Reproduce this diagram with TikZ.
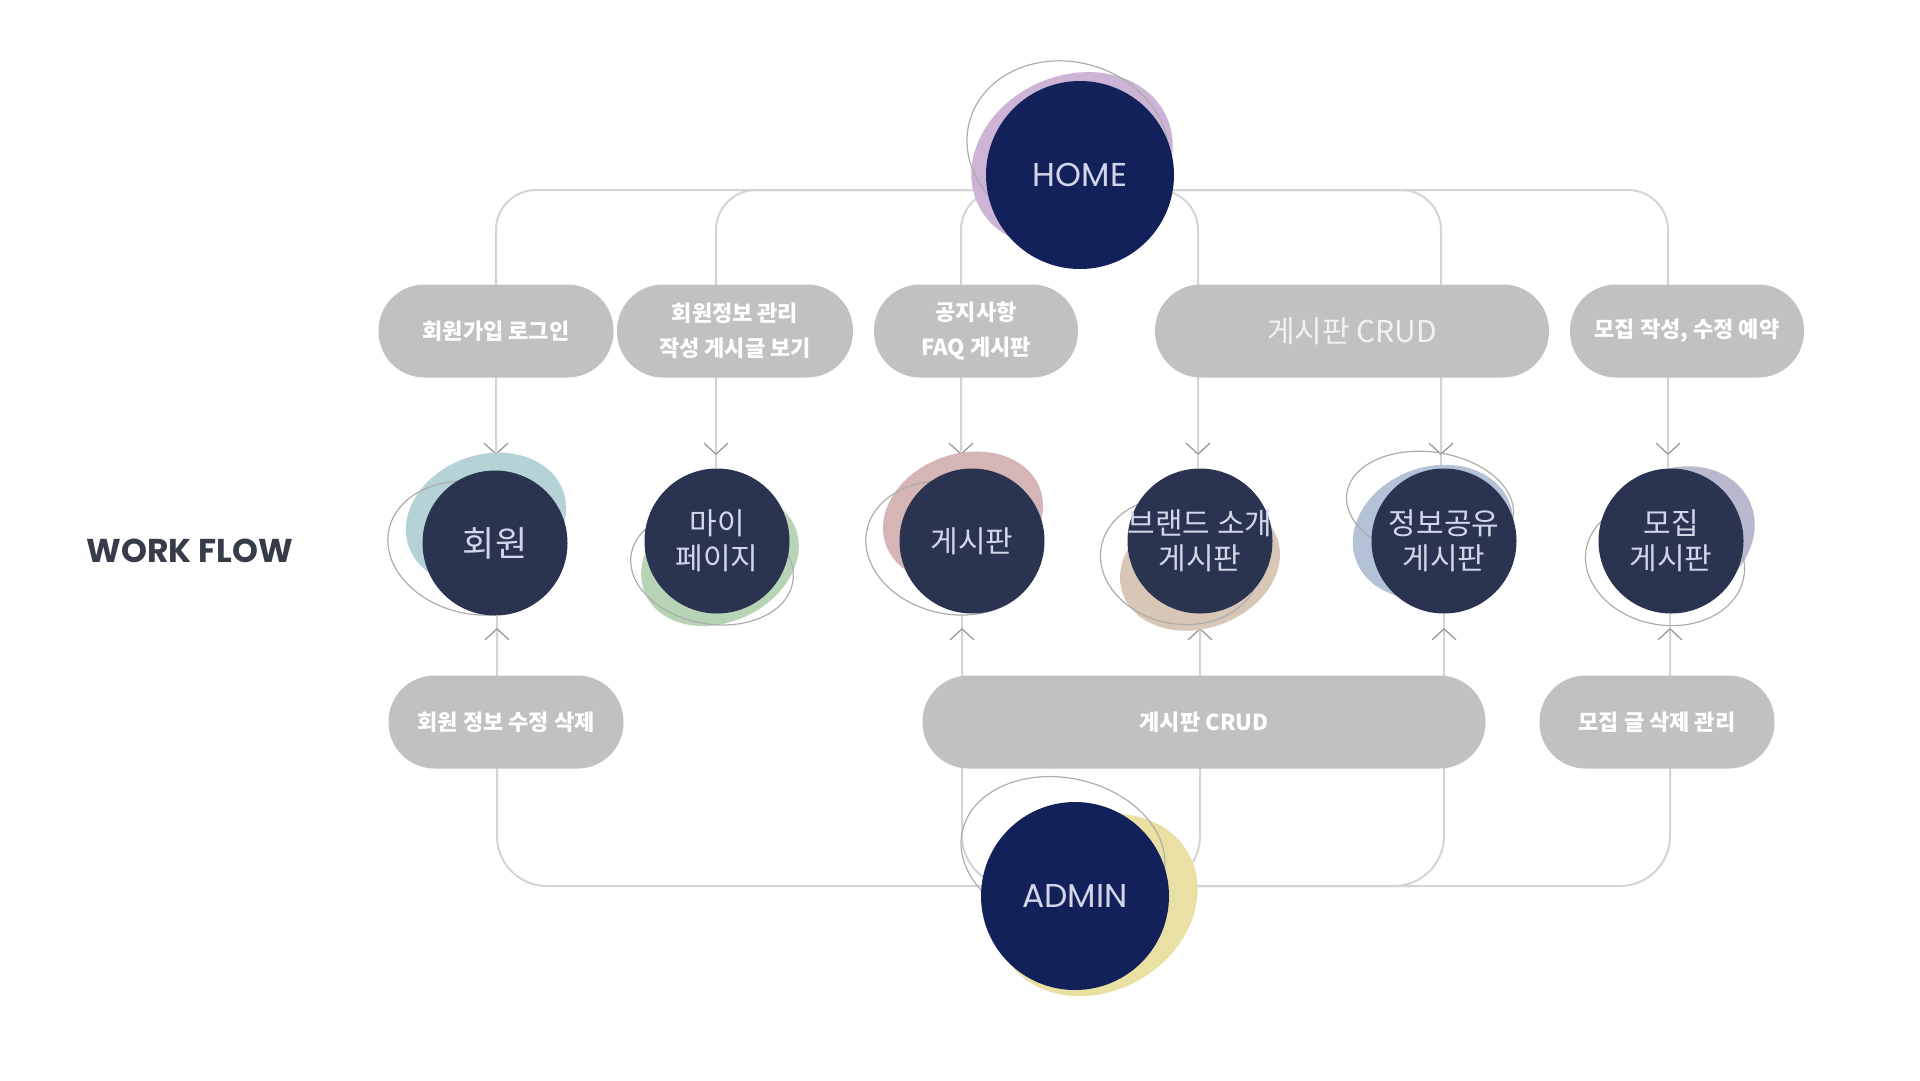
\documentclass[tikz,border=0pt]{standalone}
\usepackage{fontspec}
\newfontfamily\kr{Noto Sans CJK KR}
\newfontfamily\pop{Poppins}
\usetikzlibrary{arrows.meta}
\pgfdeclarelayer{Lpaper}\pgfdeclarelayer{Lconn}\pgfdeclarelayer{Lblob}\pgfdeclarelayer{Loutl}
\pgfsetlayers{Lpaper,Lconn,Lblob,Loutl,main}
\definecolor{hubc}{HTML}{12215A}
\definecolor{pagec}{HTML}{2A3350}
\definecolor{txtc}{HTML}{D3D5E8}
\definecolor{pillc}{HTML}{C1C1C1}
\definecolor{connc}{HTML}{D4D4D4}
\definecolor{outc}{HTML}{ADADAD}
\definecolor{arrc}{HTML}{9A9A9A}
\definecolor{bpurple}{HTML}{CDB4D6}
\definecolor{bteal}{HTML}{B5D3D7}
\definecolor{bgreen}{HTML}{B7D5B6}
\definecolor{bpink}{HTML}{D5B5B5}
\definecolor{btan}{HTML}{D8C6B6}
\definecolor{bblue}{HTML}{B4C2D8}
\definecolor{blav}{HTML}{B8B9CF}
\definecolor{byellow}{HTML}{EBE0A3}
\definecolor{wfc}{HTML}{363C49}
\begin{document}
\begin{tikzpicture}[x=1pt,y=-1pt,
  hub/.style={circle, fill=hubc, minimum size=188pt, inner sep=0pt, text=txtc, font=\pop\fontsize{33}{38}\selectfont},
  page/.style={circle, fill=pagec, minimum size=145pt, inner sep=0pt, text=txtc, align=center, font=\kr\fontsize{30}{35}\selectfont},
  pill/.style={rectangle, rounded corners=46pt, fill=pillc, minimum height=93pt, inner sep=0pt, text=white, align=center, font=\kr\bfseries\fontsize{22}{35}\selectfont},
  conn/.style={draw=connc, line width=2pt},
  tip/.style={-{Straight Barb[length=11pt,width=24pt,line width=1.3pt,color=arrc]}},
  outl/.style={draw=outc, line width=1.2pt}]
\useasboundingbox (0,0) rectangle (1920,1080);
\begin{pgfonlayer}{Lpaper}
\fill[white] (0,0) rectangle (1920,1080);
\end{pgfonlayer}

% hubs
\node[hub] (home) at (1080,175) {HOME};
\node[hub] (admin) at (1075,896) {ADMIN};

% pages
\node[page, font=\kr\fontsize{35}{40}\selectfont] (c1) at (495,543) {회원};
\node[page] (c2) at (717,541) {마이\\페이지};
\node[page] (c3) at (972,541) {게시판};
\node[page] (c4) at (1200,541) {\makebox[0pt]{브랜드 소개}\\게시판};
\node[page] (c5) at (1444,541) {정보공유\\게시판};
\node[page] (c6) at (1671,541) {모집\\게시판};

% top pills
\node[pill, minimum width=235pt] (p1) at (496,331) {회원가입 로그인};
\node[pill, minimum width=236pt] (p2) at (735,331) {회원정보 관리\\작성 게시글 보기};
\node[pill, minimum width=204pt] (p3) at (976,331) {공지사항\\FAQ 게시판};
\node[pill, minimum width=394pt, font=\kr\fontsize{30}{35}\selectfont, text={white!95!black}] (p4) at (1352,331) {게시판 CRUD};
\node[pill, minimum width=234pt] (p5) at (1687,331) {모집 작성, 수정 예약};

% bottom pills
\node[pill, minimum width=235pt] (q1) at (506,722) {회원 정보 수정 삭제};
\node[pill, minimum width=563pt] (q2) at (1204,722) {게시판 CRUD};
\node[pill, minimum width=235pt] (q3) at (1657,722) {모집 글 삭제 관리};

\node[font=\pop\bfseries\fontsize{33}{38}\selectfont, text=wfc] (wf) at (190,551) {WORK FLOW};

% arrow points
\coordinate (t1) at (496,455); \coordinate (t2) at (716,455);
\coordinate (t3) at (961,455); \coordinate (t4) at (1198,455);
\coordinate (t5) at (1441,455); \coordinate (t6) at (1668,455);
\coordinate (b1) at (497,628); \coordinate (b3) at (962,628);
\coordinate (b4) at (1200,628); \coordinate (b5) at (1444,628);
\coordinate (b6) at (1670,628);

\begin{pgfonlayer}{Lconn}
\foreach \t/\c in {t1/c1,t2/c2,t3/c3,t4/c4,t5/c5,t6/c6}{
  \draw[conn, rounded corners=40pt, tip] ([yshift=-15pt]home.center) -| (\t);
  \draw[conn] (\t) -- (\t |- \c.north);
}
\foreach \b/\c in {b1/c1,b3/c3,b4/c4,b5/c5,b6/c6}{
  \draw[conn, rounded corners=50pt, tip] ([yshift=10pt]admin.center) -| (\b);
  \draw[conn] (\b) -- (\b |- \c.south);
}
\end{pgfonlayer}

\begin{pgfonlayer}{Lblob}
\fill[bpurple, rotate around={25:(1072,160)}] (1072,160) ellipse [x radius=104, y radius=84];
\fill[byellow, rotate around={30:(1097,905)}] (1097,905) ellipse [x radius=105, y radius=86];
\fill[bteal, rotate around={20:(486,519)}] (486,519) ellipse [x radius=82, y radius=64];
\fill[bgreen, rotate around={25:(720,560)}] (720,560) ellipse [x radius=82, y radius=62];
\fill[bpink, rotate around={20:(963,517)}] (963,517) ellipse [x radius=82, y radius=63];
\fill[btan, rotate around={20:(1200,566)}] (1200,566) ellipse [x radius=82, y radius=62];
\fill[bblue, rotate around={20:(1433,532)}] (1433,532) ellipse [x radius=82, y radius=65];
\fill[blav, rotate around={25:(1677,535)}] (1677,535) ellipse [x radius=80, y radius=66];
\end{pgfonlayer}

\begin{pgfonlayer}{Loutl}
\draw[outl, rotate around={-15:(1068,148)}] (1068,148) ellipse [x radius=102, y radius=86];
\draw[outl, rotate around={-12:(1063,853)}] (1063,853) ellipse [x radius=103, y radius=75];
\draw[outl, rotate around={-12:(475,548)}] (475,548) ellipse [x radius=88, y radius=66];
\draw[outl, rotate around={-10:(712,568)}] (712,568) ellipse [x radius=82, y radius=56];
\draw[outl, rotate around={-12:(952,548)}] (952,548) ellipse [x radius=87, y radius=66];
\draw[outl, rotate around={-10:(1180,561)}] (1180,561) ellipse [x radius=80, y radius=63];
\draw[outl, rotate around={-8:(1430,505)}] (1430,505) ellipse [x radius=84, y radius=53];
\draw[outl, rotate around={-10:(1665,563)}] (1665,563) ellipse [x radius=80, y radius=62];
\end{pgfonlayer}
\end{tikzpicture}
\end{document}
